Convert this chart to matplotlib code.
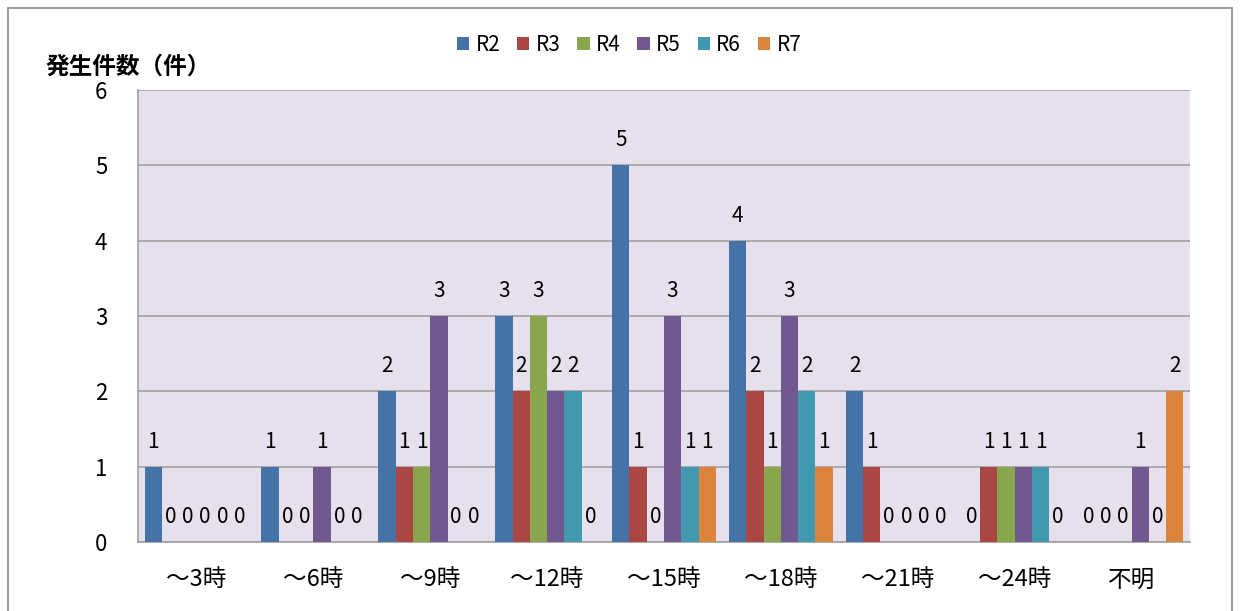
import numpy as np
import matplotlib
matplotlib.use("Agg")
import matplotlib.pyplot as plt
from matplotlib.patches import Rectangle
from matplotlib.transforms import offset_copy

plt.rcParams['font.family'] = ['Noto Sans CJK JP', 'DejaVu Sans']

categories = ['～3時', '～6時', '～9時', '～12時', '～15時', '～18時', '～21時', '～24時', '不明']
series = ['R2', 'R3', 'R4', 'R5', 'R6', 'R7']
r2 = [1, 1, 2, 3, 5, 4, 2, 0, 0]
r3 = [0, 0, 1, 2, 1, 2, 1, 1, 0]
r4 = [0, 0, 1, 3, 0, 1, 0, 1, 0]
r5 = [0, 1, 3, 2, 3, 3, 0, 1, 1]
r6 = [0, 0, 0, 2, 1, 2, 0, 1, 0]
r7 = [0, 0, 0, 0, 1, 1, 0, 0, 2]
colors = ['#4572A7', '#AA4643', '#89A54E', '#71588F', '#4198AF', '#DB843D']

values = [r2, r3, r4, r5, r6, r7]

fig = plt.figure(figsize=(12.42, 6.11), dpi=100)
# outer chart border
fig.patches.append(Rectangle((8 / 1242, -0.01), 1224 / 1242, 1 - 8 / 611 + 0.01,
                             transform=fig.transFigure, fill=False,
                             edgecolor='#8C8C8C', linewidth=1.2))

ax = fig.add_axes([138 / 1242, 1 - 542 / 611, 1052 / 1242, 452 / 611])
ax.set_facecolor('#E6E0EC')

x = np.arange(len(categories))
w = 0.148
for i, (name, vals) in enumerate(zip(series, values)):
    pos = x - 2.5 * w + i * w
    ax.bar(pos, vals, width=w, color=colors[i], label=name, zorder=3)
    trans = offset_copy(ax.transData, fig=fig, x=0, y=25, units='dots')
    for p, v in zip(pos, vals):
        ax.text(p, v, str(v), transform=trans, ha='center', va='center',
                fontsize=15, zorder=4)

ax.set_xlim(-0.5, len(categories) - 0.5)
ax.set_ylim(0, 6)
ax.set_yticks(range(0, 7))
ax.yaxis.grid(True, color='#A0A0A0', linewidth=1.2, zorder=0)
ax.set_axisbelow(True)
ax.set_xticks(x)
ax.set_xticklabels(categories, fontsize=17)
ax.tick_params(axis='y', labelsize=16, length=0, pad=22)
ax.tick_params(axis='x', length=0, pad=19)
for s in ['top', 'right']:
    ax.spines[s].set_visible(False)
for s in ['left', 'bottom']:
    ax.spines[s].set_color('#A0A0A0')
    ax.spines[s].set_linewidth(1.2)

fig.text(45 / 1242, 1 - 67 / 611, '発生件数（件）', fontsize=17, fontweight='bold',
         ha='left', va='center')

ax.legend(loc='center', bbox_to_anchor=(629 / 1242, 1 - 45 / 611), bbox_transform=fig.transFigure,
          ncol=6, frameon=False, fontsize=15, handlelength=0.6, handleheight=0.6,
          handletextpad=0.3, columnspacing=0.8)

fig.savefig('out.png', dpi=100)
